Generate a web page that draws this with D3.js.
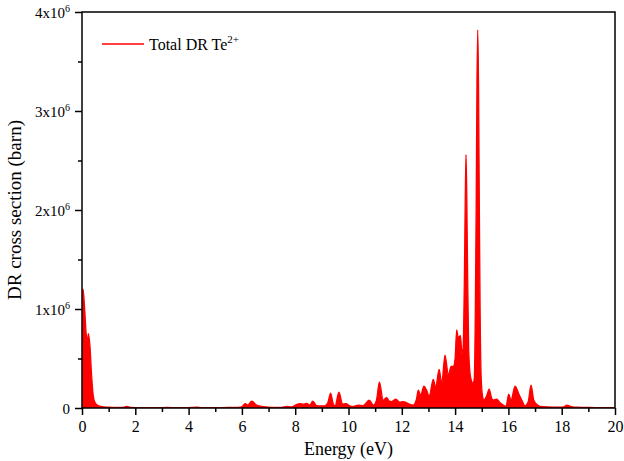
<!DOCTYPE html>
<html>
<head>
<meta charset="utf-8">
<script src="https://cdn.jsdelivr.net/npm/d3@7"></script>
<style>
  body { margin: 0; background: #fff; }
  svg { display: block; }
  svg text { font-family: "Liberation Serif", "Times New Roman", Times, serif !important; fill: #000; }
</style>
</head>
<body>
<svg id="chart" width="624" height="461" font-family="Liberation Serif, Times New Roman, serif"></svg>
<script>
// Energy (eV)
const energy = [
  0.00,0.04,0.10,0.16,0.20,0.24,0.30,0.36,0.42,0.48,0.55,0.65,0.80,1.00,1.30,1.55,1.68,1.82,
  2.20,2.70,3.20,3.70,4.10,4.30,4.50,5.00,5.50,5.85,6.00,6.12,6.22,6.37,6.55,6.80,7.00,7.20,
  7.50,7.68,7.85,8.00,8.18,8.30,8.43,8.55,8.66,8.80,8.95,9.10,9.22,9.33,9.43,9.50,9.64,9.78,
  9.90,10.05,10.15,10.37,10.55,10.78,10.93,11.05,11.16,11.30,11.43,11.53,11.62,11.78,11.92,
  12.06,12.20,12.43,12.55,12.62,12.71,12.83,12.93,13.03,13.18,13.27,13.40,13.50,13.62,13.75,
  13.85,13.93,14.00,14.06,14.12,14.20,14.26,14.30,14.35,14.38,14.41,14.44,14.47,14.51,14.56,
  14.62,14.67,14.72,14.76,14.79,14.82,14.85,14.88,14.91,14.94,14.98,15.03,15.08,15.18,15.28,
  15.36,15.43,15.56,15.70,15.81,15.91,16.01,16.10,16.25,16.41,16.52,16.62,16.74,16.85,16.95,
  17.05,17.19,17.50,17.90,18.08,18.19,18.35,18.60,19.00,19.50,20.00
];
// DR cross section (units of 10^6 barn)
const sigma = [
  1.05,1.20,1.00,0.74,0.67,0.75,0.62,0.33,0.13,0.06,0.035,0.02,0.012,0.008,0.006,0.006,0.016,0.006,
  0.004,0.004,0.005,0.004,0.005,0.008,0.004,0.004,0.005,0.007,0.012,0.045,0.03,0.07,0.03,0.014,0.008,0.005,
  0.006,0.016,0.01,0.028,0.045,0.038,0.046,0.03,0.07,0.025,0.02,0.022,0.05,0.15,0.04,0.025,0.16,0.04,
  0.045,0.022,0.015,0.03,0.025,0.08,0.03,0.08,0.26,0.08,0.105,0.07,0.065,0.09,0.06,
  0.065,0.05,0.03,0.09,0.18,0.13,0.22,0.18,0.12,0.29,0.21,0.39,0.25,0.535,0.33,
  0.42,0.42,0.50,0.79,0.71,0.73,0.55,0.60,1.35,2.10,2.56,2.10,1.35,0.60,0.35,
  0.27,0.25,0.30,1.00,2.00,3.25,3.82,3.25,2.00,0.95,0.30,0.12,0.08,0.12,0.19,
  0.11,0.08,0.09,0.05,0.03,0.015,0.14,0.08,0.22,0.13,0.07,0.02,0.06,0.23,0.08,
  0.04,0.015,0.01,0.008,0.012,0.03,0.015,0.008,0.005,0.004,0.004
];
const xTicks = [0,2,4,6,8,10,12,14,16,18,20];
const yTicks = [0,1,2,3,4];
const seriesName = "Total DR Te";
const seriesCharge = "2+";

const FONT = "Liberation Serif, Times New Roman, serif";
const svg = d3.select("#chart");
const L = 82, R = 615, T = 12, B = 408;
const x = d3.scaleLinear().domain([0,20]).range([L,R]);
const y = d3.scaleLinear().domain([0,4]).range([B,T]);

const data = energy.map((e,i)=>({e, s: sigma[i]}));

const area = d3.area().x(d=>x(d.e)).y0(y(0)).y1(d=>y(d.s)).curve(d3.curveMonotoneX);
const line = d3.line().x(d=>x(d.e)).y(d=>y(d.s)).curve(d3.curveMonotoneX);

svg.append("clipPath").attr("id","clip").append("rect")
  .attr("x",L).attr("y",T).attr("width",R-L).attr("height",B-T);

const g = svg.append("g").attr("clip-path","url(#clip)");
g.append("path").datum(data).attr("d",area).attr("fill","#ff0000");
g.append("path").datum(data).attr("d",line).attr("fill","none").attr("stroke","#ff0000").attr("stroke-width",1.3);

// Frame
svg.append("rect").attr("x",L).attr("y",T).attr("width",R-L).attr("height",B-T)
  .attr("fill","none").attr("stroke","#000").attr("stroke-width",1.5);

// X axis
const xAxis = d3.axisBottom(x).tickValues(xTicks).tickSize(7).tickPadding(6).tickFormat(d3.format("d"));
const xg = svg.append("g").attr("transform",`translate(0,${B})`).call(xAxis).attr("font-family",FONT);
xg.select(".domain").remove();
xg.selectAll("line").attr("stroke","#000").attr("stroke-width",1.5);
xg.selectAll("text").attr("font-family",FONT).attr("font-size","16px");
const xMinor = d3.axisBottom(x).tickValues(d3.range(1,20,2)).tickSize(4).tickFormat("");
const xmg = svg.append("g").attr("transform",`translate(0,${B})`).call(xMinor);
xmg.select(".domain").remove();
xmg.selectAll("line").attr("stroke","#000").attr("stroke-width",1.5);

// Y axis
const yAxis = d3.axisLeft(y).tickValues(yTicks).tickSize(7).tickPadding(4).tickFormat("");
const yg = svg.append("g").attr("transform",`translate(${L},0)`).call(yAxis).attr("font-family",FONT);
yg.select(".domain").remove();
yg.selectAll("line").attr("stroke","#000").attr("stroke-width",1.5);
yg.selectAll(".tick").each(function(d){
  const t = d3.select(this).append("text").attr("x",-12).attr("dy","0.35em")
    .attr("text-anchor","end").attr("font-family",FONT).attr("font-size","15px");
  if (d === 0) { t.text("0"); }
  else {
    t.append("tspan").text(d + "x10");
    t.append("tspan").attr("dy","-0.55em").attr("font-size","10px").text("6");
  }
});
const yMinor = d3.axisLeft(y).tickValues([0.5,1.5,2.5,3.5]).tickSize(4).tickFormat("");
const ymg = svg.append("g").attr("transform",`translate(${L},0)`).call(yMinor);
ymg.select(".domain").remove();
ymg.selectAll("line").attr("stroke","#000").attr("stroke-width",1.5);

// Axis titles
svg.append("text").attr("x",(L+R)/2).attr("y",455).attr("text-anchor","middle")
  .attr("font-family",FONT).attr("font-size","18px").text("Energy (eV)");
svg.append("text").attr("transform",`translate(21,${(T+B)/2}) rotate(-90)`)
  .attr("text-anchor","middle").attr("font-family",FONT).attr("font-size","19px").text("DR cross section (barn)");

// Legend
svg.append("line").attr("x1",102).attr("x2",144).attr("y1",44).attr("y2",44)
  .attr("stroke","#ff0000").attr("stroke-width",1.5);
const lt = svg.append("text").attr("x",149).attr("y",50).attr("font-family",FONT).attr("font-size","16px");
lt.append("tspan").text(seriesName);
lt.append("tspan").attr("dy","-0.6em").attr("font-size","11px").text(seriesCharge);
</script>
</body>
</html>
